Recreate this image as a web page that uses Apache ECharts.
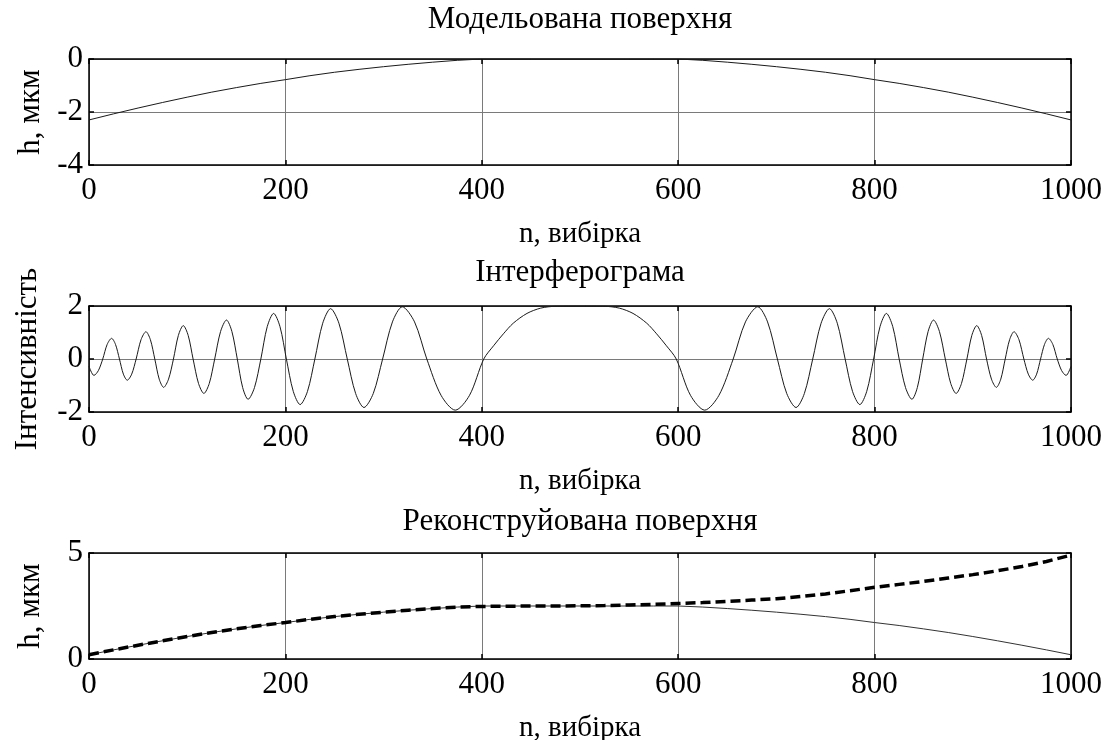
<!DOCTYPE html>
<html>
<head>
<meta charset="utf-8">
<script src="https://cdn.jsdelivr.net/npm/echarts@6/dist/echarts.min.js"></script>
<style>
  html, body { margin: 0; padding: 0; background: #fff; }
  #chart { width: 1113px; height: 740px; }
</style>
</head>
<body>
<div id="chart"></div>
<script>
// Sample index grid for the surface profiles (step 25)
const surfN = [0,25,50,75,100,125,150,175,200,225,250,275,300,325,350,375,400,425,450,475,500,
               525,550,575,600,625,650,675,700,725,750,775,800,825,850,875,900,925,950,975,1000];

// Modelled surface height, µm
const modelH = [-2.30,-2.07,-1.85,-1.64,-1.44,-1.25,-1.08,-0.92,-0.78,-0.63,-0.50,-0.39,-0.29,-0.20,-0.12,-0.05,
                0,0,0,0,0,0,0,0,0,
                -0.05,-0.12,-0.20,-0.29,-0.39,-0.50,-0.63,-0.78,-0.92,-1.08,-1.25,-1.44,-1.64,-1.85,-2.07,-2.30];

// Reconstructed surface (thin solid) and unwrapped result (thick dashed), µm
const reconTrue = [0.20,0.43,0.65,0.86,1.06,1.25,1.42,1.58,1.72,1.87,2.00,2.11,2.21,2.30,2.38,2.45,
                   2.50,2.50,2.50,2.50,2.50,2.50,2.50,2.50,2.50,
                   2.45,2.38,2.30,2.21,2.11,2.00,1.87,1.72,1.58,1.42,1.25,1.06,0.86,0.65,0.43,0.20];
const reconDash = [0.20,0.43,0.65,0.86,1.06,1.25,1.42,1.58,1.72,1.87,2.00,2.11,2.21,2.30,2.38,2.45,
                   2.48,2.49,2.50,2.50,2.51,2.52,2.55,2.58,2.62,
                   2.66,2.72,2.78,2.84,2.95,3.07,3.22,3.38,3.52,3.66,3.82,3.98,4.16,4.36,4.60,4.90];

// Interferogram intensity: samples through each fringe (extrema, half-way points, zero crossings)
const interfN = [0,5,9.5,14,18.5,23,27,31,35,39,43.5,48,53,58,62.5,67,71.5,76,81,86,91,96,101,106,111.5,117,122.5,128,
                 134,140,145.5,151,156.5,162,168.5,175,181.5,188,194.5,201,208,215,222.5,230,238,246,254.5,263,
                 271.5,280,289.5,299,309,319,331.5,344,358.5,373,387.5,402,412,422,432,446,460,475,500,
                 525,540,554,568,578,588,598,612.5,627,641.5,656,668.5,681,691,701,710.5,720,728.5,737,745.5,754,762,770,
                 777.5,785,792,799,805.5,812,818.5,825,831.5,838,843.5,849,854.5,860,866,872,877.5,883,888.5,894,
                 899,904,909,914,919,924,928.5,933,937.5,942,947,952,956.5,961,965,969,973,977,981.5,986,990.5,995,1000];
const interfV = [-0.28,-0.62,-0.44,0,0.55,0.78,0.55,0,-0.57,-0.80,-0.57,0,0.73,1.03,0.73,0,-0.76,-1.07,-0.76,0,0.89,1.26,0.89,0,-0.92,-1.30,-0.92,0,
                 1.04,1.47,1.04,0,-1.08,-1.52,-1.08,0,1.22,1.72,1.22,0,-1.22,-1.72,-1.22,0,1.35,1.90,1.35,0,
                 -1.30,-1.83,-1.30,0,1.40,1.97,1.40,0,-1.37,-1.93,-1.37,0,0.50,0.95,1.35,1.72,1.92,1.99,2.00,
                 1.99,1.92,1.72,1.35,0.95,0.50,0,-1.37,-1.93,-1.37,0,1.40,1.97,1.40,0,-1.30,-1.83,-1.30,0,1.35,1.90,1.35,0,
                 -1.22,-1.72,-1.22,0,1.22,1.72,1.22,0,-1.08,-1.52,-1.08,0,1.04,1.47,1.04,0,-0.92,-1.30,-0.92,0,
                 0.89,1.26,0.89,0,-0.76,-1.07,-0.76,0,0.73,1.03,0.73,0,-0.57,-0.80,-0.57,0,0.55,0.78,0.55,0,-0.44,-0.62,-0.28];

const titles = ['Модельована поверхня', 'Інтерферограма', 'Реконструйована поверхня'];
const xName = 'n, вибірка';
const yNames = ['h, мкм', 'Інтенсивність', 'h, мкм'];
const yRanges = [[-4, 0, 2], [-2, 2, 2], [0, 5, 5]];

const FONT = 'Liberation Serif';
const FS = 31;
const gridTops = [59, 306, 553];
const titleTops = [4, 257, 506];
const gridH = 106;

function zip(xs, ys) { return xs.map((x, i) => [x, ys[i]]); }

const grids = [], xAxes = [], yAxes = [], series = [], titleOpts = [];

gridTops.forEach((top, g) => {
  grids.push({ left: 89, top: top, width: 982, height: gridH, containLabel: false, outerBoundsMode: 'none' });
  titleOpts.push({
    text: titles[g], left: 580, top: titleTops[g], textAlign: 'center', padding: 0,
    textStyle: { fontFamily: FONT, fontSize: 31, fontWeight: 'normal', color: '#000' }
  });
  const lineStyle = { color: '#000', width: 1.5 };
  const tick = { show: true, inside: true, length: 5, lineStyle: { color: '#000', width: 1.5 } };
  xAxes.push({
    gridIndex: g, type: 'value', min: 0, max: 1000, interval: 200, position: 'bottom',
    axisLine: { show: true, onZero: false, lineStyle },
    axisTick: tick,
    axisLabel: { color: '#000', fontFamily: FONT, fontSize: FS, margin: 10, formatter: v => String(v) },
    splitLine: { show: true, lineStyle: { color: '#7a7a7a', width: 1 } },
    name: xName, nameLocation: 'middle', nameGap: 55,
    nameTextStyle: { color: '#000', fontFamily: FONT, fontSize: 29 }
  });
  xAxes.push({
    gridIndex: g, type: 'value', min: 0, max: 1000, interval: 200, position: 'top',
    axisLine: { show: true, onZero: false, lineStyle },
    axisTick: tick, axisLabel: { show: false }, splitLine: { show: false }
  });
  const [ymin, ymax, yint] = yRanges[g];
  yAxes.push({
    gridIndex: g, type: 'value', min: ymin, max: ymax, interval: yint, position: 'left',
    axisLine: { show: true, onZero: false, lineStyle },
    axisTick: tick,
    axisLabel: { color: '#000', fontFamily: FONT, fontSize: FS, margin: 6 },
    splitLine: { show: true, lineStyle: { color: '#7a7a7a', width: 1 } },
    name: yNames[g], nameLocation: 'middle', nameGap: g === 1 ? 46 : 43,
    nameTextStyle: { color: '#000', fontFamily: FONT, fontSize: 31 }
  });
  yAxes.push({
    gridIndex: g, type: 'value', min: ymin, max: ymax, interval: yint, position: 'right',
    axisLine: { show: true, onZero: false, lineStyle },
    axisTick: tick, axisLabel: { show: false }, splitLine: { show: false }
  });
});

const thin = (color) => ({ color: color, width: 1 });

series.push({
  type: 'line', xAxisIndex: 0, yAxisIndex: 0, data: zip(surfN, modelH),
  showSymbol: false, lineStyle: thin('#1a1a1a'), animation: false
});
series.push({
  type: 'line', xAxisIndex: 2, yAxisIndex: 2, data: zip(interfN, interfV),
  showSymbol: false, smooth: 0.3, lineStyle: thin('#1a1a1a'), animation: false
});
series.push({
  type: 'line', xAxisIndex: 4, yAxisIndex: 4, data: zip(surfN, reconTrue),
  showSymbol: false, lineStyle: thin('#333'), animation: false
});
series.push({
  type: 'line', xAxisIndex: 4, yAxisIndex: 4, data: zip(surfN, reconDash),
  showSymbol: false, lineStyle: { color: '#000', width: 3.5, type: [10, 5] }, animation: false
});

const chart = echarts.init(document.getElementById('chart'), null, { renderer: 'canvas' });
chart.setOption({
  animation: false,
  backgroundColor: '#fff',
  title: titleOpts,
  grid: grids,
  xAxis: xAxes,
  yAxis: yAxes,
  series: series
});
</script>
</body>
</html>
